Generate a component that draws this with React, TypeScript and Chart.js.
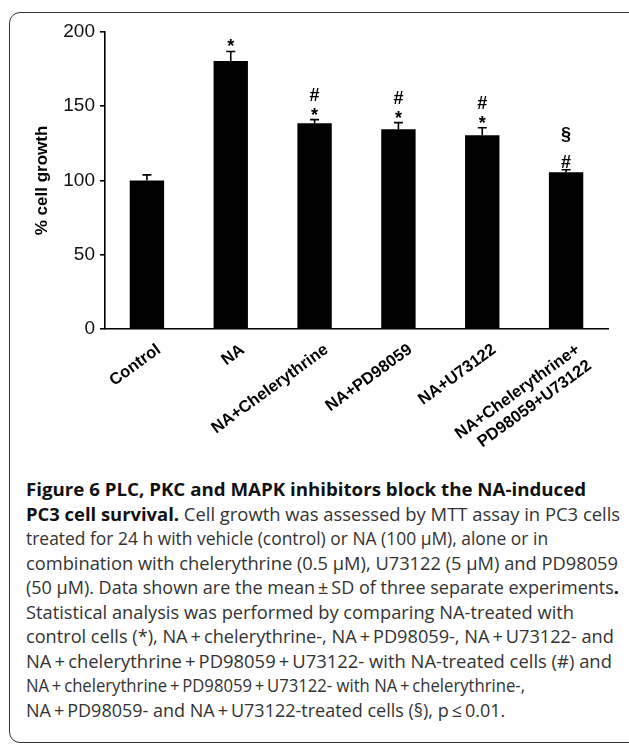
import React, { useEffect, useLayoutEffect, useRef, useState } from "react";
import { Chart, registerables } from "chart.js";

Chart.register(...registerables);

// ---- data ----
const categories: (string | string[])[] = [
  "Control",
  "NA",
  "NA+Chelerythrine",
  "NA+PD98059",
  "NA+U73122",
  ["NA+Chelerythrine+", "PD98059+U73122"],
];
const growthMean = [100, 180.5, 138.5, 134.5, 130.5, 105.5];
const growthSD = [3.8, 6.4, 2.5, 4.5, 5, 1.7];
// significance marks above each bar, listed top to bottom
const marks: string[][] = [[], ["*"], ["#", "*"], ["#", "*"], ["#", "*"], ["§", "#"]];
const yTicks = [0, 50, 100, 150, 200];
const yTitle = "% cell growth";

const P = "\u2009+\u2009";
type Seg = { t: string; b?: boolean };
const captionLines: Seg[][] = [
  [{ t: "Figure 6 PLC, PKC and MAPK inhibitors block the NA-induced", b: true }],
  [{ t: "PC3 cell survival.", b: true }, { t: " Cell growth was assessed by MTT assay in PC3 cells" }],
  [{ t: "treated for 24 h with vehicle (control) or NA (100 µM), alone or in" }],
  [{ t: "combination with chelerythrine (0.5 µM), U73122 (5 µM) and PD98059" }],
  [{ t: "(50 µM). Data shown are the mean\u2009±\u2009SD of three separate experiments" }, { t: ".", b: true }],
  [{ t: "Statistical analysis was performed by comparing NA-treated with" }],
  [{ t: `control cells (*), NA${P}chelerythrine-, NA${P}PD98059-, NA${P}U73122- and` }],
  [{ t: `NA${P}chelerythrine${P}PD98059${P}U73122- with NA-treated cells (#) and` }],
  [{ t: `NA${P}chelerythrine${P}PD98059${P}U73122- with NA${P}chelerythrine-,` }],
  [{ t: `NA${P}PD98059- and NA${P}U73122-treated cells (§), p\u2009≤\u20090.01.` }],
];

// ---- layout constants ----
const CW = 629;
const CH = 470;
const AXIS_LEFT = 105;
const AXIS_BOTTOM = 329;
const CAPTION_LEFT = 26;
const CAPTION_LINE_ENDS = [586, 620, 548, 618, 619, 574, 614, 612, 525, 505];

const errorBarPlugin = {
  id: "errorBars",
  afterDatasetsDraw(chart: any) {
    const ctx = chart.ctx;
    const meta = chart.getDatasetMeta(0);
    const ys = chart.scales.y;
    ctx.save();
    ctx.strokeStyle = "#000";
    ctx.lineWidth = 1.6;
    meta.data.forEach((bar: any, i: number) => {
      const x = bar.x;
      const yb = ys.getPixelForValue(growthMean[i]);
      const yt = ys.getPixelForValue(growthMean[i] + growthSD[i]);
      ctx.beginPath();
      ctx.moveTo(x, yb);
      ctx.lineTo(x, yt);
      ctx.moveTo(x - 4.5, yt);
      ctx.lineTo(x + 4.5, yt);
      ctx.stroke();

      const m = marks[i];
      ctx.fillStyle = "#000";
      ctx.font = "bold 18px 'Liberation Sans', Arial, sans-serif";
      ctx.textAlign = "center";
      ctx.textBaseline = "alphabetic";
      let center = yt - 8.5;
      for (let k = m.length - 1; k >= 0; k--) {
        if (k < m.length - 1) center -= m[k] === "§" ? 27 : 17;
        const tm = ctx.measureText(m[k]);
        const base = center + (tm.actualBoundingBoxAscent - tm.actualBoundingBoxDescent) / 2;
        ctx.fillText(m[k], x, base);
      }
    });
    ctx.restore();
  },
};

function BarChart() {
  const ref = useRef<HTMLCanvasElement | null>(null);
  useEffect(() => {
    if (!ref.current) return;
    const chart = new Chart(ref.current, {
      type: "bar",
      data: {
        labels: categories as any,
        datasets: [
          {
            data: growthMean,
            backgroundColor: "#000",
            borderWidth: 0,
            categoryPercentage: 1,
            barPercentage: 0.41,
          },
        ],
      },
      options: {
        responsive: false,
        animation: false,
        devicePixelRatio: 1,
        layout: { padding: { left: 0, right: 21, top: 32, bottom: 0 } },
        plugins: { legend: { display: false }, tooltip: { enabled: false } },
        scales: {
          x: {
            grid: { display: false },
            border: { display: true, color: "#000", width: 1.6 },
            ticks: {
              color: "#000",
              font: { family: "'Liberation Sans', Arial, sans-serif", size: 16.5, weight: "bold" },
              minRotation: 36,
              maxRotation: 36,
              padding: 3,
              labelOffset: 12,
              autoSkip: false,
            },
            afterFit: (s: any) => {
              s.height = CH - AXIS_BOTTOM;
            },
          },
          y: {
            min: 0,
            max: 200,
            afterBuildTicks: (s: any) => {
              s.ticks = yTicks.map((v) => ({ value: v }));
            },
            grid: {
              drawOnChartArea: false,
              drawTicks: true,
              tickLength: 5,
              color: "#000",
              lineWidth: 1.6,
            },
            border: { display: true, color: "#000", width: 1.6 },
            ticks: {
              color: "#111",
              font: { family: "'Liberation Sans Narrow', 'Liberation Sans', Arial, sans-serif", size: 19 },
              padding: 5,
            },
            title: {
              display: true,
              text: yTitle,
              color: "#000",
              font: { family: "'Liberation Sans', Arial, sans-serif", size: 17, weight: "bold" },
              padding: { top: 32, bottom: 0 },
            },
            afterFit: (s: any) => {
              s.width = AXIS_LEFT;
            },
          },
        },
      },
      plugins: [errorBarPlugin],
    });
    return () => chart.destroy();
  }, []);
  return (
    <canvas
      ref={ref}
      width={CW}
      height={CH}
      style={{ position: "absolute", left: 0, top: 0, width: CW, height: CH }}
    />
  );
}

function Caption() {
  const ref = useRef<HTMLDivElement | null>(null);
  const [scales, setScales] = useState<number[]>(captionLines.map(() => 1));
  useLayoutEffect(() => {
    const root = ref.current;
    if (!root) return;
    const next = captionLines.map((_, i) => {
      const el = root.children[i] as HTMLElement;
      const w = el ? el.offsetWidth : 0;
      return w > 0 ? (CAPTION_LINE_ENDS[i] - CAPTION_LEFT) / w : 1;
    });
    setScales(next);
  }, []);
  return (
    <div
      ref={ref}
      style={{
        position: "absolute",
        left: CAPTION_LEFT,
        top: 477,
        fontFamily: "'Open Sans', 'Noto Sans', sans-serif",
        fontSize: 18,
        lineHeight: "24.5px",
        color: "#333",
        whiteSpace: "nowrap",
      }}
    >
      {captionLines.map((line, i) => (
        <div
          key={i}
          style={{ width: "max-content", transform: `scaleX(${scales[i]})`, transformOrigin: "0 0" }}
        >
          {line.map((s, j) => (
            <span key={j} style={{ fontWeight: s.b ? 700 : 400, color: s.b ? "#111" : "#333" }}>
              {s.t}
            </span>
          ))}
        </div>
      ))}
    </div>
  );
}

export default function App() {
  return (
    <div
      style={{
        position: "fixed",
        left: 0,
        top: 0,
        width: CW,
        height: 744,
        overflow: "hidden",
        background: "#fff",
      }}
    >
      <div
        style={{
          position: "absolute",
          left: 9,
          top: 12,
          width: 660,
          height: 731,
          border: "1.6px solid #333",
          borderRadius: 11,
          boxSizing: "border-box",
        }}
      />
      <BarChart />
      <Caption />
    </div>
  );
}
